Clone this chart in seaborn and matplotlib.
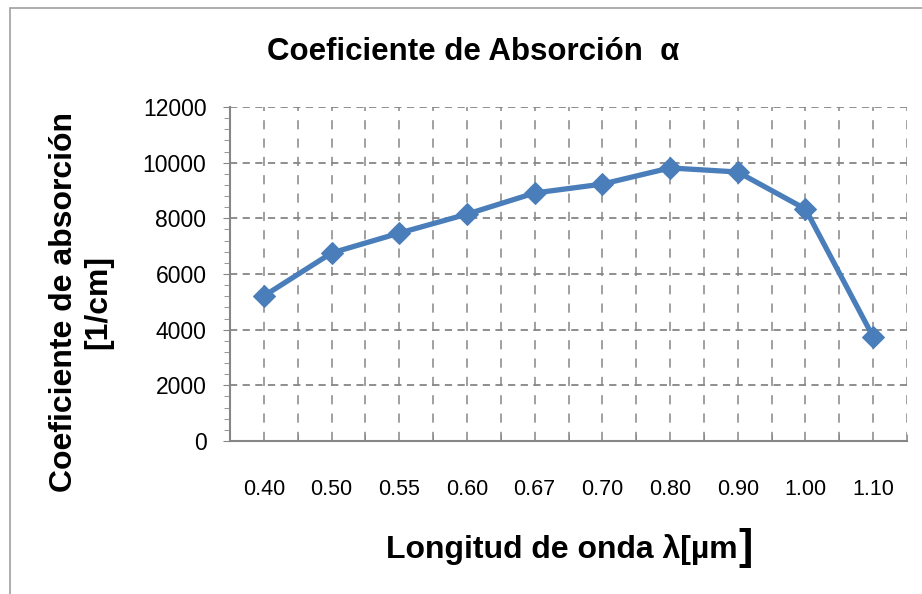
import numpy as np
import pandas as pd
import matplotlib
matplotlib.use("Agg")
import matplotlib.pyplot as plt
import seaborn as sns
from matplotlib.ticker import MultipleLocator
from matplotlib.patches import Rectangle

longitudes = ["0.40", "0.50", "0.55", "0.60", "0.67", "0.70", "0.80", "0.90", "1.00", "1.10"]
absorcion = [5210, 6755, 7470, 8150, 8910, 9230, 9810, 9665, 8335, 3740]

df = pd.DataFrame({"lambda": longitudes, "alpha": absorcion})

sns.set_style("white")
plt.rcParams["font.family"] = ["Liberation Sans", "DejaVu Sans"]
plt.rcParams["text.color"] = "black"
plt.rcParams["axes.labelcolor"] = "black"
plt.rcParams["xtick.color"] = "black"
plt.rcParams["ytick.color"] = "black"

fig = plt.figure(figsize=(9.22, 5.94), dpi=100)
ax = fig.add_axes([230 / 922, 1 - 441 / 594, 677 / 922, 334 / 594])

sns.lineplot(data=df, x="lambda", y="alpha", sort=False, ax=ax, color="#4A7EBB",
             linewidth=3.8, marker="D", markersize=11.5, markeredgecolor="#4A7EBB")

ax.set_xlim(-0.5, len(longitudes) - 0.5)
ax.set_ylim(0, 12000)
ax.yaxis.set_major_locator(MultipleLocator(2000))
ax.yaxis.set_minor_locator(MultipleLocator(400))
ax.set_xticks(range(len(longitudes)))
ax.set_xticklabels(longitudes)
ax.set_xticks(np.arange(-0.5, len(longitudes), 0.5), minor=True)

gris = "#868686"
for y in range(2000, 12001, 2000):
    ax.axhline(y, color=gris, lw=1.3, ls=(0, (4, 3)), zorder=0)
for x in np.arange(0, len(longitudes), 0.5):
    ax.axvline(x, color=gris, lw=1.1, ls=(0, (6, 6)), zorder=0)

for s in ["top", "right"]:
    ax.spines[s].set_visible(False)
for s in ["left", "bottom"]:
    ax.spines[s].set_color(gris)
    ax.spines[s].set_linewidth(1.5)

ax.tick_params(axis="y", which="major", left=True, length=5, color=gris, labelsize=16.5, pad=12)
ax.tick_params(axis="y", which="minor", left=True, length=4, color=gris)
ax.tick_params(axis="x", which="major", bottom=False, labelsize=15.5, pad=24)
ax.tick_params(axis="x", which="minor", bottom=True, direction="in", length=5, color=gris)

xl = ax.set_xlabel("Longitud de onda λ[µm", fontsize=23, fontweight="bold", labelpad=25)
ax.xaxis.set_label_coords(0.49, -0.28)
ax.set_ylabel("Coeficiente de absorción\n[1/cm]", fontsize=23, fontweight="bold",
              linespacing=1.15)
ax.yaxis.set_label_coords(-0.173, 0.415)

fig.text(473 / 922, 1 - 52 / 594, "Coeficiente de Absorción  α", ha="center", va="center",
         fontsize=22.5, fontweight="bold")

# corchete final mas grande, como en el original
fig.canvas.draw()
bb = xl.get_window_extent()
fig.text(bb.x1 + 1, bb.y0 - 3, "]", ha="left", va="bottom", fontsize=31, fontweight="bold",
         transform=None)

fig.patches.append(Rectangle((10 / 922, -0.02), 1.05, 1 - 8 / 594 + 0.02, transform=fig.transFigure,
                             fill=False, edgecolor="#A0A0A0", lw=1.2))

fig.savefig("out.png", dpi=100)
